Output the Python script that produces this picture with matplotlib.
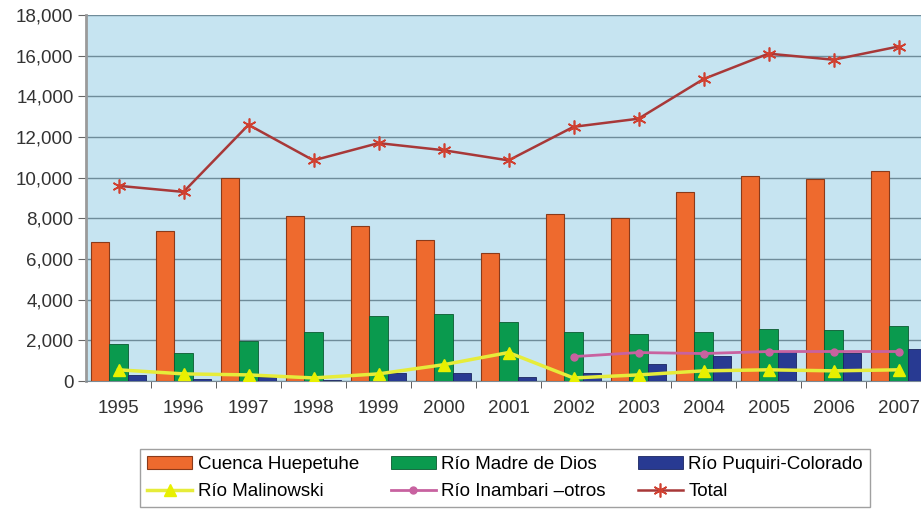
import matplotlib.pyplot as plt
import numpy as np

plt.rcParams['font.family'] = ['Liberation Sans', 'DejaVu Sans']

years = ['1995', '1996', '1997', '1998', '1999', '2000', '2001',
         '2002', '2003', '2004', '2005', '2006', '2007']
huepetuhe = [6850, 7400, 9980, 8100, 7600, 6950, 6300, 8200, 8000, 9300, 10100, 9950, 10350]
madre_dios = [1800, 1400, 1950, 2400, 3200, 3300, 2900, 2400, 2300, 2400, 2550, 2500, 2700]
puquiri = [300, 100, 200, 50, 400, 400, 200, 400, 850, 1250, 1500, 1400, 1550]
malinowski = [550, 350, 300, 150, 350, 800, 1400, 150, 300, 500, 550, 500, 550]
inambari_years = ['2002', '2003', '2004', '2005', '2006', '2007']
inambari = [1200, 1400, 1350, 1450, 1450, 1450]
total = [9600, 9300, 12600, 10850, 11700, 11350, 10850, 12500, 12900, 14850, 16100, 15800, 16450]

x = np.arange(len(years))
x_inam = np.array([years.index(y) for y in inambari_years])
w = 0.28
fs = 13.5

fig = plt.figure(figsize=(9.21, 5.15), dpi=100)
ax = fig.add_axes([86 / 921, 134 / 515, 845 / 921, 366 / 515])
ax.set_facecolor('#C6E4F1')

ax.bar(x - w, huepetuhe, w, color='#EE6A2E', edgecolor='#8A3A1A', linewidth=0.8,
       label='Cuenca Huepetuhe', zorder=3)
ax.bar(x, madre_dios, w, color='#0A9A4E', edgecolor='#0A5A30', linewidth=0.6,
       label='Río Madre de Dios', zorder=3)
ax.bar(x + w, puquiri, w, color='#283A92', edgecolor='#1A2560', linewidth=0.6,
       label='Río Puquiri-Colorado', zorder=3)

ax.plot(x, malinowski, color='#E6EC3A', lw=2.5, marker='^', ms=8,
        markerfacecolor='#E8F000', markeredgecolor='#E8F000',
        label='Río Malinowski', zorder=4)
ax.plot(x_inam, inambari, color='#C862A0', lw=2, marker='o', ms=5,
        label='Río Inambari –otros', zorder=4)
ax.plot(x, total, color='#A83838', lw=1.8, marker=(6, 2, 0), ms=10,
        markeredgecolor='#D04030', markeredgewidth=1.2, label='Total', zorder=5)

ax.set_xlim(-0.5, len(years) - 0.5)
ax.set_ylim(0, 18000)
ax.set_yticks(np.arange(0, 18001, 2000))
ax.set_yticklabels([f'{v:,}' for v in range(0, 18001, 2000)], fontsize=fs, color='#333333')
ax.set_xticks(x)
ax.set_xticklabels(years, fontsize=fs, color='#333333')
ax.tick_params(axis='x', which='major', length=0, pad=14)
ax.set_xticks(np.arange(0.5, len(years) - 0.5, 1), minor=True)
ax.tick_params(axis='x', which='minor', length=5, color='#444444')
ax.tick_params(axis='y', length=6, color='#666666', pad=3)
ax.grid(axis='y', color='#6F8C9A', lw=1, zorder=1)
for s in ['top', 'right']:
    ax.spines[s].set_visible(False)
ax.spines['left'].set_color('#9A9A9A')
ax.spines['left'].set_linewidth(2)
ax.spines['bottom'].set_color('#7A8A95')

# handles come back lines first, then bars; legend fills column by column
h, l = ax.get_legend_handles_labels()
order = [3, 0, 4, 1, 5, 2]
h = [h[i] for i in order]
l = [l[i] for i in order]
leg = fig.legend(h, l, ncol=3, loc='center', bbox_to_anchor=(505 / 921, 1 - 478 / 515),
                 fontsize=fs, frameon=True, fancybox=False, handlelength=2.4,
                 columnspacing=1.7, handletextpad=0.3, labelspacing=0.55,
                 borderpad=0.35, borderaxespad=0)
leg.get_frame().set_edgecolor('#888888')
leg.get_frame().set_linewidth(1)

fig.savefig('out.png', dpi=100)
